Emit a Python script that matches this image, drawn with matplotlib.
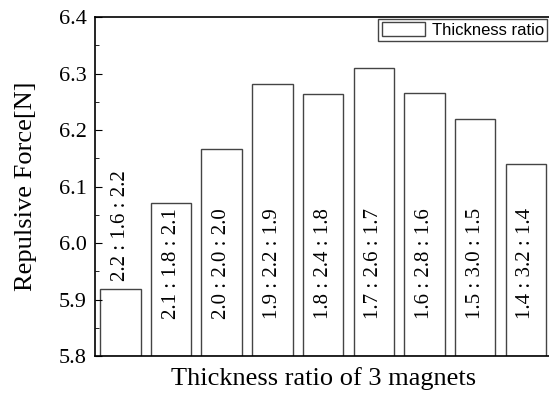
import numpy as np
import matplotlib as mpl
mpl.use('Agg')
import matplotlib.pyplot as plt
from matplotlib.ticker import MultipleLocator

ratios = ['2.2 : 1.6 : 2.2', '2.1 : 1.8 : 2.1', '2.0 : 2.0 : 2.0',
          '1.9 : 2.2 : 1.9', '1.8 : 2.4 : 1.8', '1.7 : 2.6 : 1.7',
          '1.6 : 2.8 : 1.6', '1.5 : 3.0 : 1.5', '1.4 : 3.2 : 1.4']
force = [5.919, 6.070, 6.167, 6.282, 6.263, 6.310, 6.265, 6.219, 6.140]

plt.rcParams['font.family'] = 'Liberation Serif'

fig = plt.figure(figsize=(5.49, 3.94), dpi=100)
ax = fig.add_axes([0.173, 0.0964, 0.831, 0.8604])

x = np.arange(len(force))
ax.bar(x, np.array(force) - 5.8, bottom=5.8, width=0.8, facecolor='white',
       edgecolor='#444444', linewidth=1.0, label='Thickness ratio')

# first bar is too short, so its label sits above it
for i, (xi, lab) in enumerate(zip(x, ratios)):
    if i == 0:
        ax.text(xi, force[i] + 0.014, lab, rotation=90, ha='center',
                va='bottom', fontsize=15)
    else:
        ax.text(xi, 5.866, lab, rotation=90, ha='center', va='bottom',
                fontsize=15)

ax.set_xlim(-0.5, 8.5)
ax.set_ylim(5.8, 6.4)
ax.set_xticks([])
ax.yaxis.set_major_locator(MultipleLocator(0.1))
ax.yaxis.set_minor_locator(MultipleLocator(0.05))
ax.tick_params(axis='y', which='major', direction='in', length=5,
               labelsize=16, pad=6)
ax.tick_params(axis='y', which='minor', direction='in', length=3)
for s in ax.spines.values():
    s.set_linewidth(1.2)

ax.set_xlabel('Thickness ratio of 3 magnets', fontsize=19, labelpad=8)
ax.set_ylabel('Repulsive Force[N]', fontsize=19, labelpad=16)

leg = ax.legend(loc='upper right', bbox_to_anchor=(0.9915, 0.995),
                prop={'family': 'Liberation Sans', 'size': 12},
                fancybox=False, framealpha=1, edgecolor='#444444',
                borderpad=0.2, handlelength=2.6, handleheight=0.9,
                handletextpad=0.4, borderaxespad=0)
leg.get_frame().set_linewidth(1.0)

fig.savefig('out.png', dpi=100)
